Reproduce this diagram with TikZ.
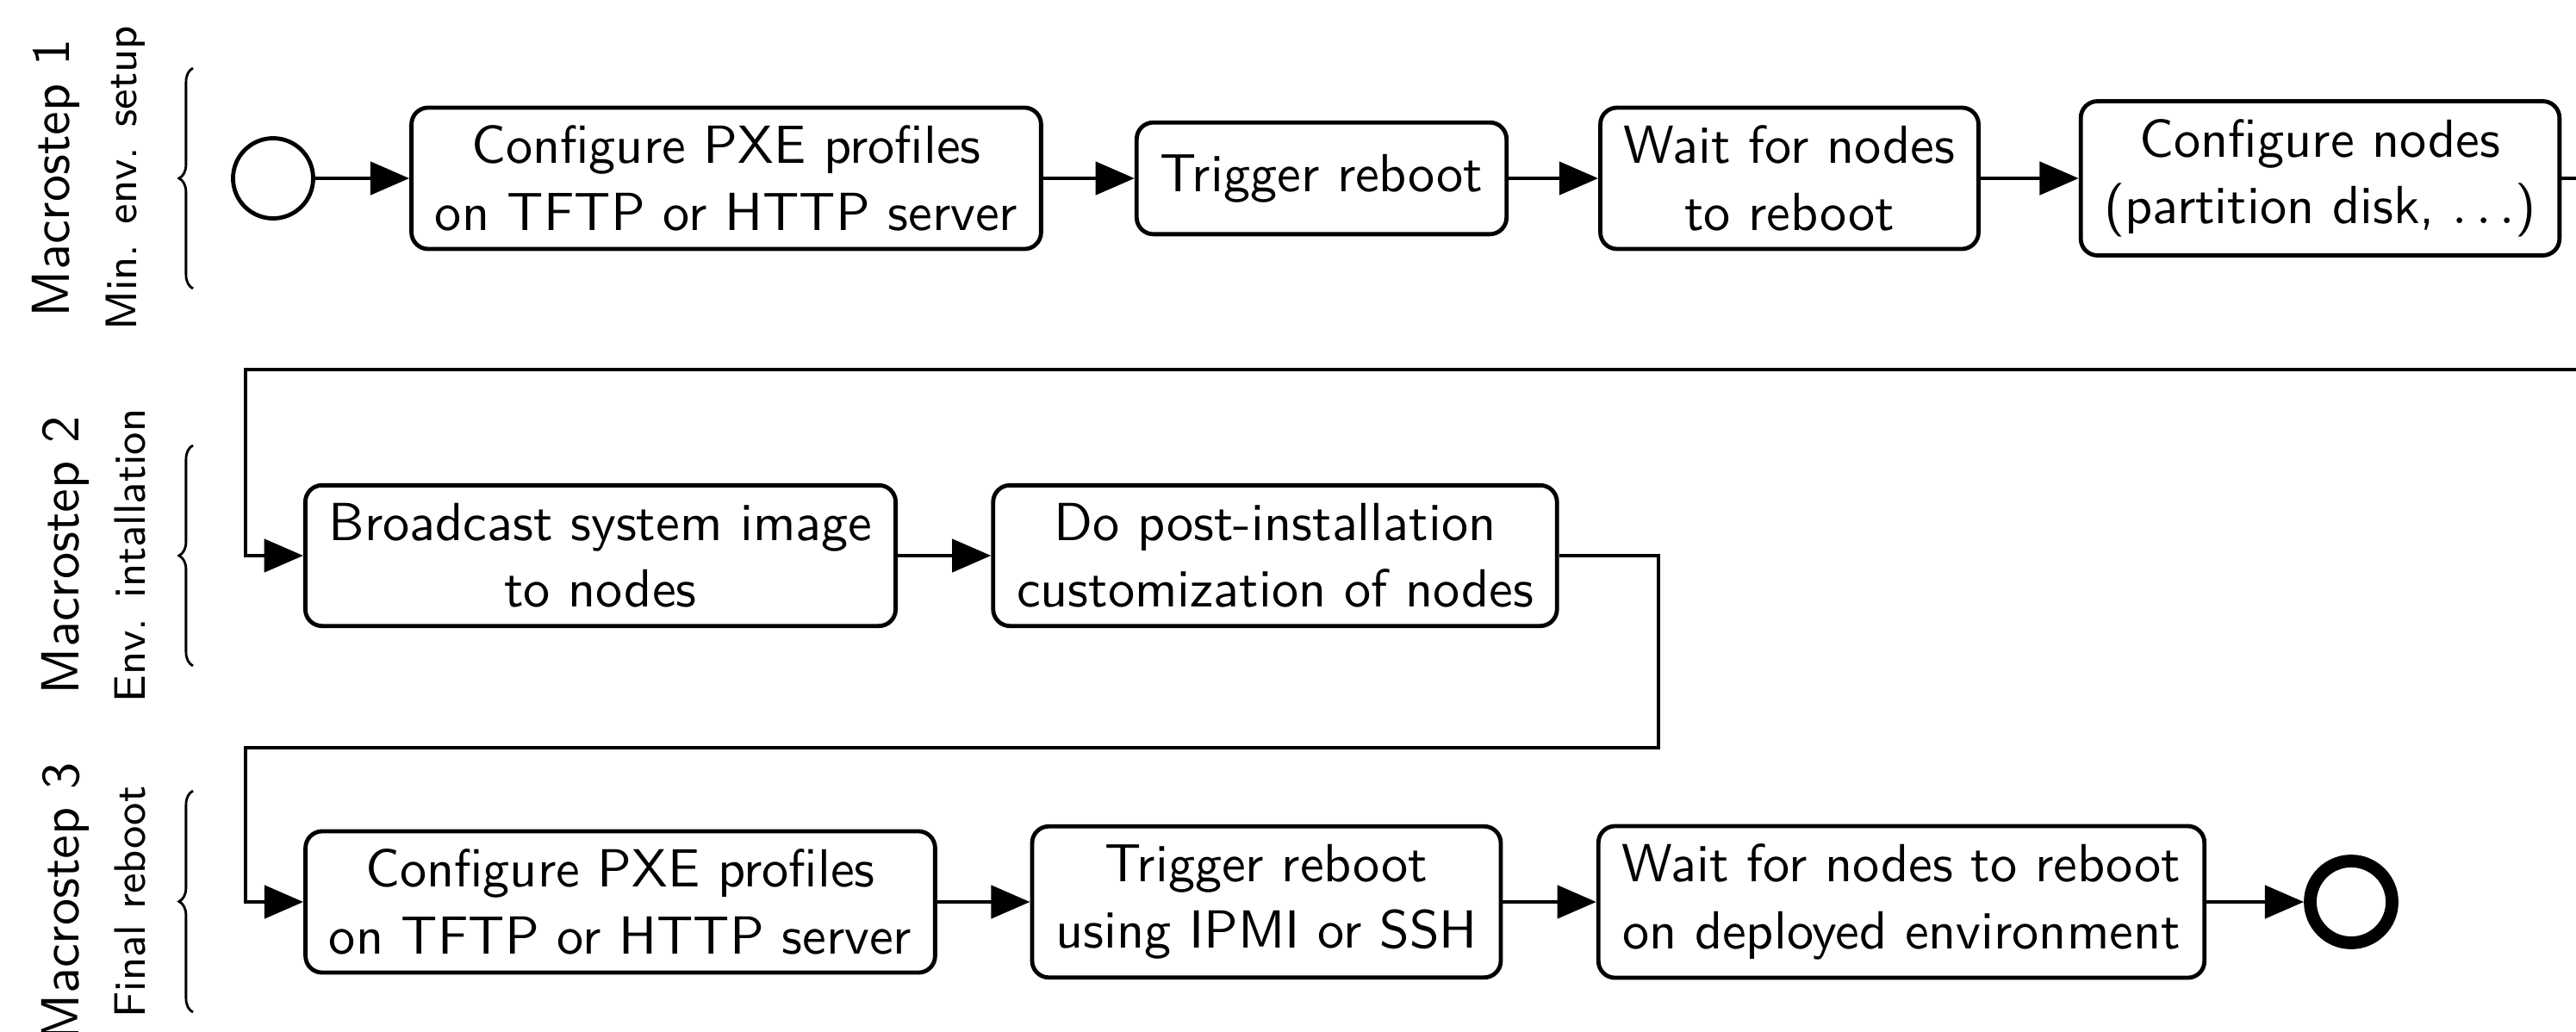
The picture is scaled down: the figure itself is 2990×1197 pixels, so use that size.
\documentclass[tikz,border=0pt]{standalone}
\usetikzlibrary{arrows.meta,decorations.pathreplacing}
\begin{document}
\begin{tikzpicture}[x=0.00618cm,y=-0.00618cm,
  font=\sffamily\fontsize{10.95}{13.6}\selectfont,
  box/.style={draw,rounded corners=0.12cm,line width=0.85pt,align=center,inner xsep=4.8pt,inner ysep=3.7pt,minimum height=22.8pt},
  flow/.style={line width=0.85pt,-{Triangle[length=0.28cm,width=0.235cm]}},
  startev/.style={circle,draw,line width=0.85pt,minimum size=0.575cm,inner sep=0pt},
  endev/.style={circle,draw,line width=2.6pt,minimum size=0.587cm,inner sep=0pt},
  mlabel/.style={rotate=90,anchor=base},
  slabel/.style={rotate=90,anchor=base,font=\sffamily\fontsize{9}{11}\selectfont},
  bracestyle/.style={decorate,decoration={brace,amplitude=0.1cm},line width=0.5pt}]
\useasboundingbox (0,0) rectangle (2990,1197);
\clip (0,0) rectangle (2990,1197);

% labels
\node[mlabel] (m1) at (80,207) {Macrostep 1};
\node[slabel] (s1) at (158,207) {Min. env. setup};
\node[mlabel] (m2) at (91,645) {Macrostep 2};
\node[slabel] (s2) at (168,645) {Env. intallation};
\node[mlabel] (m3) at (91,1047) {Macrostep 3};
\node[slabel] (s3) at (168,1047) {Final reboot};

% braces
\coordinate (br1a) at (224,335); \coordinate (br1b) at (224,79);
\coordinate (br2a) at (224,773); \coordinate (br2b) at (224,517);
\coordinate (br3a) at (224,1175); \coordinate (br3b) at (224,918);
\draw[bracestyle] (br1a) -- (br1b);
\draw[bracestyle] (br2a) -- (br2b);
\draw[bracestyle] (br3a) -- (br3b);

% row 1
\node[startev] (start) at (317,207) {};
\node[box] (b1) at (843,207) {Configure PXE profiles\\on TFTP or HTTP server};
\node[box] (b2) at (1534,207) {Trigger reboot};
\node[box] (b3) at (2077,207) {Wait for nodes\\to reboot};
\node[box] (b4) at (2693,207) {Configure nodes\\(partition disk, $\ldots$)};

% row 2
\node[box] (b5) at (697,645) {Broadcast system image\\to nodes};
\node[box] (b6) at (1480,645) {Do post-installation\\customization of nodes};

% row 3
\node[box] (b7) at (720,1047) {Configure PXE profiles\\on TFTP or HTTP server};
\node[box] (b8) at (1470,1047) {Trigger reboot\\using IPMI or SSH};
\node[box] (b9) at (2207,1047) {Wait for nodes to reboot\\on deployed environment};
\node[endev] (end) at (2729,1047) {};

% connectors
\draw[flow] (start) -- (b1);
\draw[flow] (b1) -- (b2);
\draw[flow] (b2) -- (b3);
\draw[flow] (b3) -- (b4);
\coordinate (t1) at (3040,429);
\coordinate (t2) at (285,429);
\draw[flow] (b4.east) -| (t1) -- (t2) |- (b5.west);
\draw[flow] (b5) -- (b6);
\coordinate (t3) at (1925,868);
\coordinate (t4) at (285,868);
\draw[flow] (b6.east) -| (t3) -- (t4) |- (b7.west);
\draw[flow] (b7) -- (b8);
\draw[flow] (b8) -- (b9);
\draw[flow] (b9) -- (end);
\end{tikzpicture}
\end{document}
